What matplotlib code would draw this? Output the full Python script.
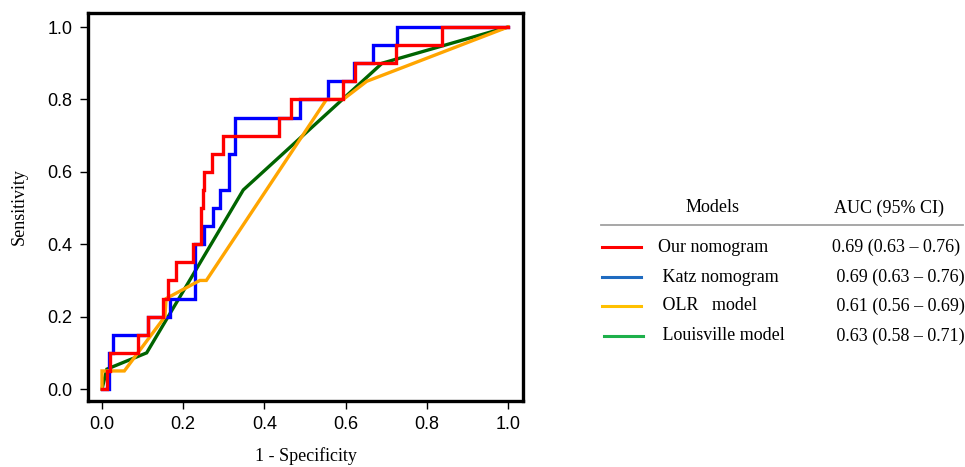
import matplotlib
matplotlib.use("Agg")
import matplotlib.pyplot as plt
from matplotlib.lines import Line2D

# ---------------- data ----------------
red_fpr = [0, 0.012, 0.012, 0.020, 0.020, 0.088, 0.088, 0.114, 0.114, 0.151, 0.151, 0.163, 0.163,
           0.182, 0.182, 0.223, 0.223, 0.243, 0.243, 0.245, 0.245, 0.248, 0.248, 0.251, 0.251,
           0.270, 0.270, 0.297, 0.297, 0.437, 0.437, 0.466, 0.466, 0.593, 0.593, 0.623, 0.623,
           0.724, 0.724, 0.837, 0.837, 1.0]
red_tpr = [0, 0, 0.05, 0.05, 0.10, 0.10, 0.15, 0.15, 0.20, 0.20, 0.25, 0.25, 0.30, 0.30, 0.35,
           0.35, 0.40, 0.40, 0.45, 0.45, 0.50, 0.50, 0.55, 0.55, 0.60, 0.60, 0.65, 0.65, 0.70,
           0.70, 0.75, 0.75, 0.80, 0.80, 0.85, 0.85, 0.90, 0.90, 0.95, 0.95, 1.0, 1.0]

blue_fpr = [0, 0.016, 0.016, 0.028, 0.028, 0.114, 0.114, 0.167, 0.167, 0.229, 0.229, 0.252,
            0.252, 0.273, 0.273, 0.291, 0.291, 0.314, 0.314, 0.328, 0.328, 0.487, 0.487, 0.557,
            0.557, 0.620, 0.620, 0.668, 0.668, 0.726, 0.726, 1.0]
blue_tpr = [0, 0, 0.10, 0.10, 0.15, 0.15, 0.20, 0.20, 0.25, 0.25, 0.40, 0.40, 0.45, 0.45, 0.50,
            0.50, 0.55, 0.55, 0.65, 0.65, 0.75, 0.75, 0.80, 0.80, 0.85, 0.85, 0.90, 0.90, 0.95,
            0.95, 1.0, 1.0]

orange_fpr = [0, 0, 0.055, 0.155, 0.158, 0.241, 0.257, 0.553, 0.594, 0.652, 1.0]
orange_tpr = [0, 0.05, 0.05, 0.20, 0.25, 0.30, 0.30, 0.80, 0.80, 0.85, 1.0]

green_fpr = [0, 0.012, 0.11, 0.348, 0.69, 1.0]
green_tpr = [0, 0.055, 0.10, 0.55, 0.90, 1.0]

models = ["Our nomogram", " Katz nomogram", " OLR   model", " Louisville model"]
aucs = ["0.69 (0.63 \u2013 0.76)", " 0.69 (0.63 \u2013 0.76)", " 0.61 (0.56 \u2013 0.69)",
        " 0.63 (0.58 \u2013 0.71)"]
ticks = [0.0, 0.2, 0.4, 0.6, 0.8, 1.0]
tick_labels = ["0.0", "0.2", "0.4", "0.6", "0.8", "1.0"]

# ---------------- figure ----------------
W, H = 965, 467
fig = plt.figure(figsize=(W / 100, H / 100), dpi=100)
ax = fig.add_axes([88 / W, 1 - 401 / H, (523 - 88) / W, (401 - 13) / H])

ax.plot(green_fpr, green_tpr, color="#006400", lw=2.4, solid_joinstyle="miter")
ax.plot(blue_fpr, blue_tpr, color="#0000FF", lw=2.4, solid_joinstyle="miter")
ax.plot(orange_fpr, orange_tpr, color="#FFA500", lw=2.4, solid_joinstyle="miter")
ax.plot(red_fpr, red_tpr, color="#FF0000", lw=2.4, solid_joinstyle="miter")

ax.set_xlim(-0.0345, 1.037)
ax.set_ylim(-0.033, 1.0387)
ax.set_xticks(ticks)
ax.set_xticklabels(tick_labels)
ax.set_yticks(ticks)
ax.set_yticklabels(tick_labels)
for sp in ax.spines.values():
    sp.set_linewidth(2.4)
ax.tick_params(direction="out", length=6, width=1.0, labelsize=13, pad=5)
for lab in ax.get_xticklabels() + ax.get_yticklabels():
    lab.set_family("Liberation Sans")

serif = "Liberation Serif"
ax.set_xlabel("1 - Specificity", family=serif, fontsize=13, labelpad=10)
ax.set_ylabel("Sensitivity", family=serif, fontsize=13, labelpad=14)

# ---------------- legend table ----------------
def fx(px):
    return px / W

def fy(py):
    return 1 - py / H

fig.text(fx(713), fy(208), "Models", family=serif, fontsize=13, ha="center", va="center")
fig.text(fx(889), fy(208), "AUC (95% CI)", family=serif, fontsize=13, ha="center", va="center")
fig.add_artist(Line2D([fx(601), fx(963)], [fy(225), fy(225)], color="#a0a0a0", lw=1.3,
                      transform=fig.transFigure))

leg_colors = ["#FF0000", "#1F6BC0", "#FFC000", "#1DB04B"]
row_y = [247, 277, 306, 336]
line_x0 = [602, 602, 602, 604]
for i in range(4):
    y = row_y[i]
    fig.add_artist(Line2D([fx(line_x0[i]), fx(line_x0[i] + 39)], [fy(y), fy(y)],
                          color=leg_colors[i], lw=2.2, transform=fig.transFigure))
    fig.text(fx(658), fy(y), models[i], family=serif, fontsize=13, ha="left", va="center")
    fig.text(fx(832), fy(y), aucs[i], family=serif, fontsize=13, ha="left", va="center")

fig.savefig("out.png", dpi=100, facecolor="white")
